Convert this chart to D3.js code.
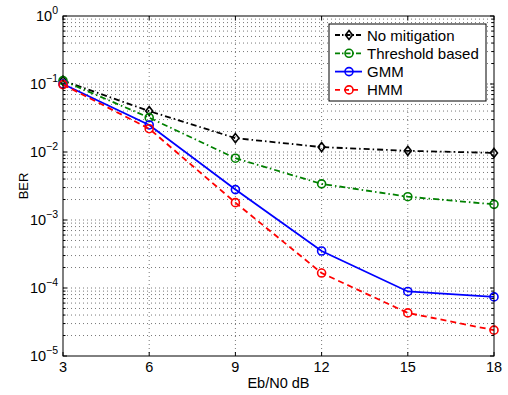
<!DOCTYPE html>
<html><head><meta charset="utf-8">
<script src="https://cdn.jsdelivr.net/npm/d3@7"></script>
<style>body{margin:0;background:#fff}svg{display:block}text{font-family:"Liberation Sans",Arial,sans-serif}</style>
</head><body><svg id="c" width="508" height="395"></svg>
<script>
const snr = [3, 6, 9, 12, 15, 18];
const noMitigation = [0.112, 0.040, 0.016, 0.0118, 0.0104, 0.0097];
const thresholdBased = [0.112, 0.032, 0.0081, 0.0034, 0.0022, 0.0017];
const gmm = [0.100, 0.025, 0.0028, 0.00035, 0.000089, 0.000074];
const hmm = [0.098, 0.022, 0.0018, 0.000166, 0.000043, 0.000024];
const seriesNames = ["No mitigation", "Threshold based", "GMM", "HMM"];
const xTicks = [3, 6, 9, 12, 15, 18];
const yExps = [0, -1, -2, -3, -4, -5];

const svg = d3.select("#c");
const L = 63, R = 494, T = 16, B = 356;
const x = d3.scaleLinear().domain([3, 18]).range([L, R]);
const y = d3.scaleLog().domain([1e-5, 1]).range([B, T]);

// grid
const g = svg.append("g");
xTicks.slice(1, -1).forEach(v => g.append("line").attr("x1", x(v)).attr("x2", x(v)).attr("y1", T).attr("y2", B)
  .attr("stroke", "#555").attr("stroke-width", 0.8).attr("stroke-dasharray", "1,3"));
const minors = [];
for (let e = -5; e < 0; e++) for (let m = 1; m <= 9; m++) minors.push(m * Math.pow(10, e));
minors.push(1);
minors.forEach(v => {
  if (Math.abs(y(v) - B) < 0.5 || Math.abs(y(v) - T) < 0.5) return;
  g.append("line").attr("x1", L).attr("x2", R).attr("y1", y(v)).attr("y2", y(v))
    .attr("stroke", "#555").attr("stroke-width", 0.8).attr("stroke-dasharray", "1,3");
});

// ticks
const tk = svg.append("g").attr("stroke", "#000").attr("stroke-width", 1);
xTicks.forEach(v => {
  tk.append("line").attr("x1", x(v)).attr("x2", x(v)).attr("y1", B).attr("y2", B - 4);
  tk.append("line").attr("x1", x(v)).attr("x2", x(v)).attr("y1", T).attr("y2", T + 4);
});
minors.forEach(v => {
  const major = Math.abs(Math.log10(v) - Math.round(Math.log10(v))) < 1e-9;
  const len = major ? 4 : 2.5;
  tk.append("line").attr("x1", L).attr("x2", L + len).attr("y1", y(v)).attr("y2", y(v));
  tk.append("line").attr("x1", R).attr("x2", R - len).attr("y1", y(v)).attr("y2", y(v));
});

// series
const series = [
  {name: seriesNames[0], vals: noMitigation, color: "#000", dash: "6,3,1.5,3", marker: "diamond"},
  {name: seriesNames[1], vals: thresholdBased, color: "#008000", dash: "6,3,1.5,3", marker: "circle"},
  {name: seriesNames[2], vals: gmm, color: "#0000ff", dash: null, marker: "circle"},
  {name: seriesNames[3], vals: hmm, color: "#ff0000", dash: "6,4", marker: "circle"}
];
const line = d3.line().x((d, i) => x(snr[i])).y(d => y(d));
function drawMarker(sel, cx, cy, s) {
  if (s.marker === "diamond") {
    sel.append("path").attr("d", `M${cx},${cy-4.5}L${cx+3.5},${cy}L${cx},${cy+4.5}L${cx-3.5},${cy}Z`)
      .attr("fill", "none").attr("stroke", s.color).attr("stroke-width", 1.6);
  } else {
    sel.append("circle").attr("cx", cx).attr("cy", cy).attr("r", 4)
      .attr("fill", "none").attr("stroke", s.color).attr("stroke-width", 1.6);
  }
}
series.forEach(s => {
  const p = svg.append("path").attr("d", line(s.vals)).attr("fill", "none")
    .attr("stroke", s.color).attr("stroke-width", 1.8);
  if (s.dash) p.attr("stroke-dasharray", s.dash);
  s.vals.forEach((v, i) => drawMarker(svg, x(snr[i]), y(v), s));
});

// box
svg.append("rect").attr("x", L).attr("y", T).attr("width", R - L).attr("height", B - T)
  .attr("fill", "none").attr("stroke", "#000").attr("stroke-width", 1);

// tick labels
xTicks.forEach(v => svg.append("text").attr("x", x(v)).attr("y", 372).attr("text-anchor", "middle")
  .attr("font-size", 14.5).text(v));
yExps.forEach(e => {
  const t = svg.append("text").attr("x", L - 5).attr("y", y(Math.pow(10, e)) + 5)
    .attr("text-anchor", "end").attr("font-size", 14.5);
  t.append("tspan").text("10");
  t.append("tspan").attr("dy", -7).attr("font-size", 10.5).text(e === 0 ? "0" : "\u2212" + Math.abs(e));
});
svg.append("text").attr("x", (L + R) / 2).attr("y", 388).attr("text-anchor", "middle").attr("font-size", 14.5).text("Eb/N0 dB");
svg.append("text").attr("transform", `translate(28,${(T + B) / 2}) rotate(-90)`).attr("text-anchor", "middle")
  .attr("font-size", 13).text("BER");

// legend
const lg = svg.append("g");
lg.append("rect").attr("x", 329).attr("y", 24).attr("width", 157).attr("height", 77)
  .attr("fill", "#fff").attr("stroke", "#000").attr("stroke-width", 1);
series.forEach((s, i) => {
  const yy = 35 + i * 18.3;
  const l = lg.append("line").attr("x1", 335).attr("x2", 362).attr("y1", yy).attr("y2", yy)
    .attr("stroke", s.color).attr("stroke-width", 1.8);
  if (s.dash) l.attr("stroke-dasharray", s.name === "HMM" ? "5,4" : "5,2,1.5,2");
  drawMarker(lg, 349, yy, s);
  lg.append("text").attr("x", 367).attr("y", yy + 5.5).attr("font-size", 15).text(s.name);
});
</script></body></html>
